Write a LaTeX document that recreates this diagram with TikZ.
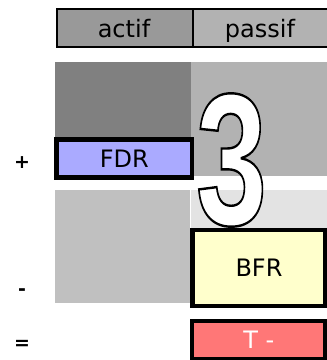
\documentclass[tikz,border=0pt]{standalone}
\usepackage{fontspec}
\setmainfont{DejaVu Sans}
\newfontfamily\bigfont{Liberation Sans}
\definecolor{hdrA}{HTML}{999999}
\definecolor{hdrP}{HTML}{B2B2B2}
\definecolor{darkblk}{HTML}{808080}
\definecolor{rightblk}{HTML}{B2B2B2}
\definecolor{lowleft}{HTML}{C0C0C0}
\definecolor{lowright}{HTML}{E3E3E3}
\definecolor{fdrfill}{HTML}{AAAAFF}
\definecolor{bfrfill}{HTML}{FFFFCC}
\definecolor{tfill}{HTML}{FF7777}
\newcommand\outlined[1]{\special{pdf:literal direct q 2 Tr 2.4 w 0 0 0 RG 1 1 1 rg}#1\special{pdf:literal direct Q}}
\tikzset{
  lbl/.style={font=\fontsize{24}{26}\selectfont, inner sep=0pt},
  sign/.style={font=\fontsize{19}{20}\selectfont\bfseries, inner sep=0pt},
  thickbox/.style={draw=black, line width=4.5pt},
}
\begin{document}
\begin{tikzpicture}[x=1pt,y=-1pt]
\useasboundingbox (0,0) rectangle (327,360);
\clip (0,0) rectangle (327,360);
% header
\fill[hdrA] (57,9) rectangle (193,47);
\fill[hdrP] (193,9) rectangle (330,47);
\draw[line width=2pt] (330,9) -- (57,9) -- (57,47) -- (330,47);
\draw[line width=2pt] (193,9) -- (193,47);
\node[lbl, anchor=base] (actif) at (124,37) {actif};
\node[lbl, anchor=base] (passif) at (260,37) {passif};
% blocks
\fill[darkblk] (55,62) rectangle (191,140);
\fill[rightblk] (191,62) rectangle (327,176);
\fill[lowleft] (55,190) rectangle (190,303);
\fill[lowright] (191,190) rectangle (327,230);
% FDR
\node[thickbox, fill=fdrfill, minimum width=135.5pt, minimum height=38pt, inner sep=0pt, lbl] (fdr) at (124.25,158.5) {FDR};
% big 3
\node[inner sep=0pt, xscale=0.68, transform shape] (three) at (231.5,160) {\bigfont\bfseries\fontsize{188}{190}\selectfont\outlined{3}};
% BFR
\node[thickbox, fill=bfrfill, minimum width=133pt, minimum height=76pt, inner sep=0pt, lbl] (bfr) at (259,268) {BFR};
% T-
\node[draw=black, line width=4pt, fill=tfill, minimum width=132.5pt, minimum height=37.5pt, inner sep=0pt, lbl, text=white] (tm) at (258.75,339.75) {T -};
% signs
\node[sign] (plus) at (22,163) {+};
\node[sign] (minus) at (22,292) {-};
\node[sign] (eq) at (22,345) {=};
\end{tikzpicture}
\end{document}
